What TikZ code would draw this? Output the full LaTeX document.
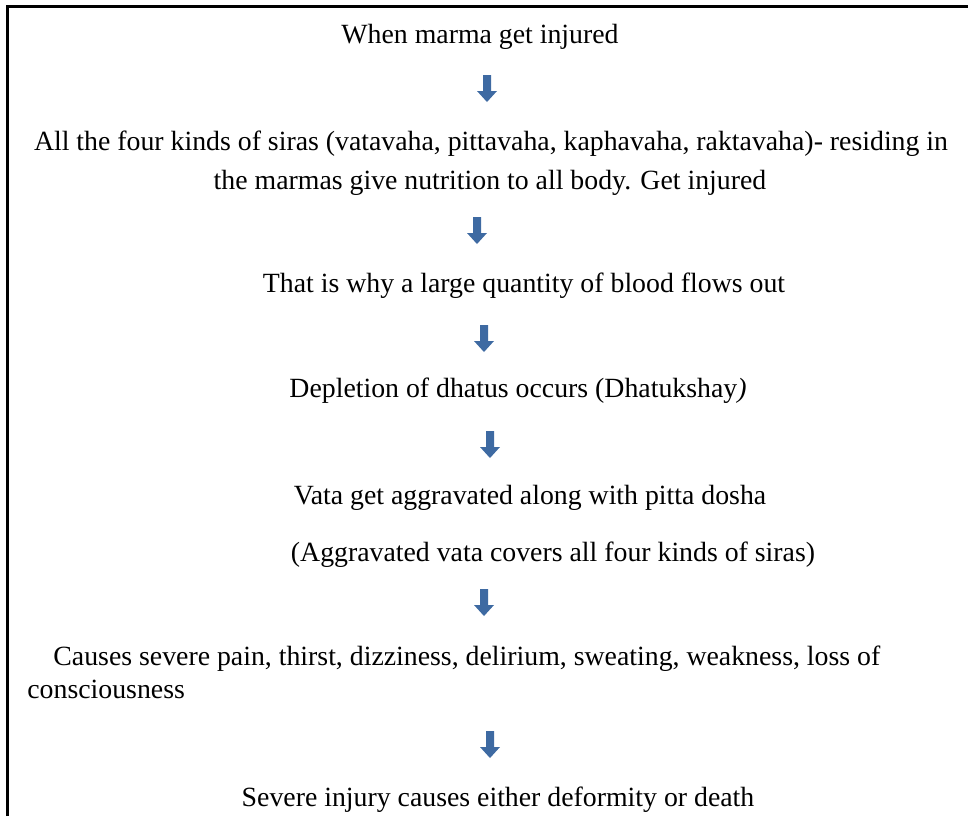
\documentclass[tikz,border=0pt]{standalone}
\usepackage{fontspec}
\setmainfont{Liberation Serif}
\definecolor{arrowblue}{HTML}{3E6AA2}
\tikzset{
  txt/.style={anchor=base, inner sep=0pt, font=\fontsize{13.9}{16}\selectfont},
  blockarrow/.style={fill=arrowblue, draw=none},
}
\newcommand{\downarr}[2]{%
  \fill[blockarrow] (#1-4,#2) -- (#1+4,#2) -- (#1+4,#2+16) -- (#1+10,#2+16) -- (#1,#2+27) -- (#1-10,#2+16) -- (#1-4,#2+16) -- cycle;}
\begin{document}
\begin{tikzpicture}[x=0.5pt,y=-0.5pt]
\useasboundingbox (0,0) rectangle (968,816);
\draw[line width=1.5pt] (7.5,816) -- (7.5,6) -- (968,6);
\node[txt] (t1) at (480,43) {When marma get injured};
\downarr{487}{75}
\node[txt] (t2a) at (491,150) {All the four kinds of siras (vatavaha, pittavaha, kaphavaha, raktavaha)- residing in};
\node[txt] (t2b) at (490,189) {the marmas give nutrition to all body. Get injured};
\downarr{477}{217}
\node[txt] (t3) at (524,292) {That is why a large quantity of blood flows out};
\downarr{484}{325}
\node[txt] (t4) at (518,397) {Depletion of dhatus occurs (Dhatukshay\textit{)}};
\downarr{490}{431}
\node[txt] (t5a) at (530,504) {Vata get aggravated along with pitta dosha};
\node[txt] (t5b) at (553,561) {(Aggravated vata covers all four kinds of siras)};
\downarr{484}{589}
\node[txt,anchor=base west] (t6a) at (53,665) {Causes severe pain, thirst, dizziness, delirium, sweating, weakness, loss of};
\node[txt,anchor=base west] (t6b) at (27,698) {consciousness};
\downarr{490}{731}
\node[txt] (t7) at (498,806) {Severe injury causes either deformity or death};
\end{tikzpicture}
\end{document}
